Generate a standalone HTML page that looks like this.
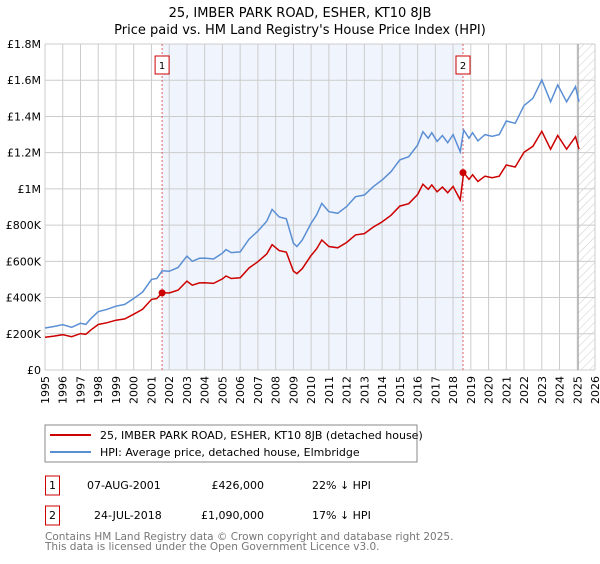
<!DOCTYPE html>
<html><head><meta charset="utf-8"><style>
body{margin:0;background:#fff;font-family:"DejaVu Sans","Liberation Sans",sans-serif}
svg text{font-family:"DejaVu Sans","Liberation Sans",sans-serif}
</style></head><body>
<svg id="chart" width="600" height="560" xmlns="http://www.w3.org/2000/svg">
<defs><pattern id="hatch" width="6" height="6" patternUnits="userSpaceOnUse" patternTransform="rotate(45)"><line x1="0" y1="0" x2="0" y2="6" stroke="#ccc" stroke-width="1"/></pattern></defs>
<text x="300" y="17" text-anchor="middle" font-size="13">25, IMBER PARK ROAD, ESHER, KT10 8JB</text>
<text x="300" y="34" text-anchor="middle" font-size="13">Price paid vs. HM Land Registry's House Price Index (HPI)</text>
<g id="plot"></g>
<g>
<rect x="45" y="425" width="372" height="37" fill="#fff" stroke="#888"/>
<line x1="50" y1="435" x2="91" y2="435" stroke="#cc0000" stroke-width="2"/>
<text x="100" y="439" font-size="11">25, IMBER PARK ROAD, ESHER, KT10 8JB (detached house)</text>
<line x1="50" y1="452" x2="91" y2="452" stroke="#5b8fd4" stroke-width="2"/>
<text x="100" y="456" font-size="11">HPI: Average price, detached house, Elmbridge</text>
</g>
<g font-size="11">
<rect x="45.5" y="476" width="14" height="19" fill="#fff" stroke="#cc0000"/>
<text x="52.5" y="489" text-anchor="middle">1</text>
<text x="87" y="489">07-AUG-2001</text>
<text x="264" y="489" text-anchor="end">£426,000</text>
<text x="312" y="489">22% ↓ HPI</text>
<rect x="45.5" y="506" width="14" height="19" fill="#fff" stroke="#cc0000"/>
<text x="52.5" y="519" text-anchor="middle">2</text>
<text x="94" y="519">24-JUL-2018</text>
<text x="264" y="519" text-anchor="end">£1,090,000</text>
<text x="312" y="519">17% ↓ HPI</text>
</g>
<g font-size="10.5" fill="#777">
<text x="45" y="540">Contains HM Land Registry data © Crown copyright and database right 2025.</text>
<text x="45" y="550">This data is licensed under the Open Government Licence v3.0.</text>
</g>
</svg>
<script>
const hpiYears=[1995.0,1995.5,1996.0,1996.5,1997.0,1997.3,1997.6,1998.0,1998.5,1999.0,1999.5,2000.0,2000.5,2001.0,2001.3,2001.6,2002.0,2002.5,2003.0,2003.3,2003.7,2004.0,2004.5,2005.0,2005.2,2005.5,2006.0,2006.5,2007.0,2007.5,2007.8,2008.2,2008.6,2009.0,2009.2,2009.5,2010.0,2010.3,2010.6,2011.0,2011.5,2012.0,2012.5,2013.0,2013.5,2014.0,2014.5,2015.0,2015.5,2016.0,2016.3,2016.6,2016.8,2017.1,2017.4,2017.7,2018.0,2018.4,2018.6,2018.9,2019.1,2019.4,2019.8,2020.2,2020.6,2021.0,2021.5,2022.0,2022.5,2023.0,2023.5,2023.9,2024.4,2024.9,2025.1];
const hpiValues=[232,240,250,236,258,252,285,322,335,352,362,395,430,500,505,548,545,566,629,600,617,618,613,645,665,648,652,722,767,822,887,845,835,700,682,718,810,856,920,874,865,902,957,966,1012,1049,1095,1160,1178,1242,1316,1280,1310,1262,1295,1255,1300,1205,1325,1280,1310,1265,1300,1290,1300,1375,1362,1460,1500,1601,1481,1574,1481,1565,1481];
const priceValues=[181,187,195,184,201,197,222,251,261,275,282,308,335,390,394,426,425,441,491,468,481,482,478,503,519,505,509,563,598,641,692,659,651,546,532,560,632,668,718,682,675,704,746,753,789,818,854,905,918,969,1026,998,1022,984,1010,979,1014,940,1090,1053,1078,1041,1070,1062,1070,1132,1121,1202,1235,1318,1219,1295,1219,1288,1219];
const yTicks=[0,200,400,600,800,1000,1200,1400,1600,1800];
const yTickLabels=["£0","£200K","£400K","£600K","£800K","£1M","£1.2M","£1.4M","£1.6M","£1.8M"];
const xTicks=[1995,1996,1997,1998,1999,2000,2001,2002,2003,2004,2005,2006,2007,2008,2009,2010,2011,2012,2013,2014,2015,2016,2017,2018,2019,2020,2021,2022,2023,2024,2025,2026];
const saleYears=[2001.6,2018.56];
const saleValues=[426,1090];
const saleLabels=["1","2"];
const X0=45,X1=595,Y0=370,Y1=44;
const xs=y=>X0+(y-1995)/(2026-1995)*(X1-X0);
const ys=v=>Y0-v/1800*(Y0-Y1);
const NS="http://www.w3.org/2000/svg";
const g=document.getElementById('plot');
function mk(t,a,p){const e=document.createElementNS(NS,t);for(const k in a)e.setAttribute(k,a[k]);(p||g).appendChild(e);return e;}
let r=mk('rect',{x:xs(saleYears[0]),y:Y1,width:xs(saleYears[1])-xs(saleYears[0]),height:Y0-Y1,fill:'#f0f4fd'});


let h=mk('rect',{x:xs(2025.05),y:Y1,width:X1-xs(2025.05),height:Y0-Y1,fill:'url(#hatch)'});


xTicks.forEach(t=>{const l=mk('line',{x1:xs(t),x2:xs(t),y1:Y1,y2:Y0,stroke:'#ccc','stroke-width':1});


const tx=mk('text',{x:0,y:0,'font-size':11,'text-anchor':'end',transform:`translate(${xs(t)+4},${Y0+6}) rotate(-90)`});


tx.textContent=t;});
yTicks.forEach((t,i)=>{const l=mk('line',{x1:X0,x2:X1,y1:ys(t),y2:ys(t),stroke:'#ccc','stroke-width':1});


const tx=mk('text',{x:X0-4,y:ys(t)+4,'font-size':11,'text-anchor':'end'});


tx.textContent=yTickLabels[i];});
let nl=mk('line',{x1:xs(2025.05),x2:xs(2025.05),y1:Y1,y2:Y0,stroke:'#999','stroke-width':1});


saleYears.forEach((s,i)=>{const l=mk('line',{x1:xs(s),x2:xs(s),y1:Y1,y2:Y0,stroke:'#e06060','stroke-width':1,'stroke-dasharray':'2,2'});


const b=mk('rect',{x:xs(s)-7,y:56,width:14,height:18,fill:'#fff',stroke:'#cc0000'});


const t=mk('text',{x:xs(s),y:69,'font-size':10,'text-anchor':'middle'});


t.textContent=saleLabels[i];});
function path(vals,col,name){const d=vals.map((v,i)=>(i?'L':'M')+xs(hpiYears[i]).toFixed(1)+','+ys(v).toFixed(1)).join('');
const p=mk('path',{d:d,fill:'none',stroke:col,'stroke-width':1.5});

}
path(hpiValues,'#5b8fd4','hpi-line');
path(priceValues,'#cc0000','price-line');
saleYears.forEach((s,i)=>{const c=mk('circle',{cx:xs(s),cy:ys(saleValues[i]),r:3.5,fill:'#cc0000'});

});
</script>
</body></html>
